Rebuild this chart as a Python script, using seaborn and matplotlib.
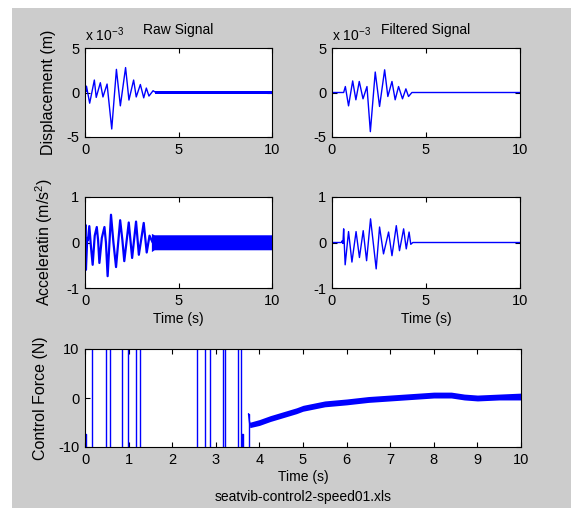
import numpy as np
import pandas as pd
import matplotlib
matplotlib.use("Agg")
import matplotlib.pyplot as plt
import seaborn as sns
from matplotlib.patches import Rectangle

# ---------------- data ----------------
# Raw displacement (x 10^-3 m)
disp_raw_t = [0.0, 0.02, 0.05, 0.08, 0.25, 0.50, 0.60, 0.82, 0.96, 1.18, 1.43, 1.68, 1.89,
              2.17, 2.35, 2.60, 2.74, 2.96, 3.14, 3.28, 3.42, 3.64, 3.75, 10.0]
disp_raw_v = [0.0, 0.8, 0.1, 0.7, -1.2, 1.4, -0.55, 1.1, -0.5, 0.95, -4.1, 2.6, -1.5,
              2.8, -0.85, 1.4, -0.5, 0.9, -0.6, 0.5, -0.4, 0.2, 0.05, 0.05]
disp_raw_band_t = [3.72, 10.0]
disp_raw_band_lo = [-0.12, -0.12]
disp_raw_band_hi = [0.22, 0.22]

# Filtered displacement (x 10^-3 m)
disp_filt_t = [0.0, 0.62, 0.71, 0.88, 1.10, 1.27, 1.45, 1.65, 1.86, 2.04, 2.30, 2.53, 2.80,
               2.97, 3.19, 3.36, 3.54, 3.75, 3.93, 4.07, 4.25, 10.0]
disp_filt_v = [0.0, 0.0, 0.67, -1.5, 1.3, -0.82, 1.24, -0.71, 0.67, -4.4, 2.3, -1.57, 2.55,
               -0.45, 1.24, -0.82, 0.67, -0.71, 0.41, -0.45, 0.0, 0.0]

# Raw acceleration (m/s^2)
acc_raw_t = [0.0, 0.02, 0.05, 0.12, 0.16, 0.23, 0.32, 0.41, 0.52, 0.63, 0.70, 0.77, 0.90, 1.04,
             1.12, 1.21, 1.39, 1.52, 1.66, 1.88, 2.00, 2.10, 2.34, 2.52, 2.73, 2.88, 3.14,
             3.30, 3.45, 3.62]
acc_raw_v = [0.0, 0.39, -0.60, 0.10, 0.05, 0.36, -0.10, -0.49, 0.15, 0.34, 0.05, -0.45, 0.10,
             0.34, 0.0, -0.74, 0.61, 0.0, -0.54, 0.49, 0.05, -0.41, 0.44, -0.34, 0.46, -0.27,
             0.43, -0.22, 0.15, 0.0]
acc_raw_band_t = [3.55, 3.70, 10.0]
acc_raw_band_lo = [-0.20, -0.16, -0.16]
acc_raw_band_hi = [0.20, 0.17, 0.17]

# Filtered acceleration (m/s^2)
acc_filt_t = [0.0, 0.50, 0.55, 0.58, 0.62, 0.70, 0.88, 1.06, 1.28, 1.46, 1.66, 1.84, 2.05,
              2.22, 2.35, 2.53, 2.74, 3.01, 3.19, 3.42, 3.59, 3.81, 3.95, 4.10, 4.19, 4.30,
              5.0, 6.0, 7.0, 8.0, 9.0, 10.0]
acc_filt_v = [0.0, 0.0, 0.04, -0.02, 0.30, -0.49, 0.24, -0.43, 0.24, -0.33, 0.26, -0.40, 0.52,
              -0.10, -0.58, 0.34, -0.25, 0.23, -0.29, 0.37, -0.18, 0.30, -0.14, 0.23, -0.04, 0.0,
              0.0, 0.0, 0.0, 0.0, 0.0, 0.0]

# Control force (N): switching part (held values, off-scale = saturated)
ctrl_sw_t = [0.0, 0.02, 0.17, 0.48, 0.57, 0.84, 0.98, 1.17, 1.27, 2.56, 2.76, 2.87, 3.16,
             3.21, 3.52, 3.58, 3.61, 3.63, 3.75]
ctrl_sw_v = [-7.3, -15, 15, -15, 15, -15, 15, -15, 15, -15, 15, -15, 15,
             -15, 15, -15, -7.3, -15, -3.2]
# Control force (N): continuous part
ctrl_t = [3.75, 3.78, 4.0, 4.25, 4.55, 4.85, 5.0, 5.5, 6.0, 6.5, 7.0, 7.5, 8.0, 8.4, 8.7,
          9.0, 9.5, 10.0]
ctrl_v = [-3.2, -5.5, -5.0, -4.2, -3.4, -2.6, -2.1, -1.2, -0.8, -0.3, 0.0, 0.3, 0.6, 0.6,
          0.2, 0.0, 0.2, 0.3]
ctrl_band = [0.0, 0.55, 0.6, 0.6, 0.6, 0.6, 0.6, 0.6, 0.6, 0.6, 0.6, 0.6, 0.6, 0.6, 0.6,
             0.6, 0.6, 0.7]

file_label = "seatvib-control2-speed01.xls"

# ---------------- style ----------------
sns.set_theme(style="white")
plt.rcParams["font.family"] = ["Liberation Sans", "DejaVu Sans"]
plt.rcParams["mathtext.default"] = "regular"
plt.rcParams["text.color"] = "black"
plt.rcParams["axes.labelcolor"] = "black"
plt.rcParams["xtick.color"] = "black"
plt.rcParams["ytick.color"] = "black"

W, H = 571, 508
fig = plt.figure(figsize=(W / 100, H / 100), dpi=100, facecolor="white")
fig.add_artist(Rectangle((12 / W, 0), 1, 1 - 8 / H, transform=fig.transFigure,
                         facecolor="#cccccc", edgecolor="none", zorder=-5))


def box(l, t, r, b):
    return [l / W, 1 - b / H, (r - l) / W, (b - t) / H]


ax_dr = fig.add_axes(box(85, 48, 272, 137))
ax_df = fig.add_axes(box(332, 48, 520, 137))
ax_ar = fig.add_axes(box(85, 197, 272, 288))
ax_af = fig.add_axes(box(332, 197, 520, 288))
ax_cf = fig.add_axes(box(85, 349, 521, 447))

BLUE = "#0000ff"
kw = dict(color=BLUE, estimator=None, sort=False, legend=False)

sns.lineplot(x=disp_raw_t, y=disp_raw_v, ax=ax_dr, lw=1.0, **kw)
ax_dr.fill_between(disp_raw_band_t, disp_raw_band_lo, disp_raw_band_hi, color=BLUE, lw=0)
sns.lineplot(x=disp_filt_t, y=disp_filt_v, ax=ax_df, lw=1.0, **kw)

sns.lineplot(x=acc_raw_t, y=acc_raw_v, ax=ax_ar, lw=1.6, **kw)
ax_ar.fill_between(acc_raw_band_t, acc_raw_band_lo, acc_raw_band_hi, color=BLUE, lw=0)
sns.lineplot(x=acc_filt_t, y=acc_filt_v, ax=ax_af, lw=1.0, **kw)

sns.lineplot(x=ctrl_sw_t, y=ctrl_sw_v, ax=ax_cf, lw=1.0, drawstyle="steps-post", **kw)
sns.lineplot(x=ctrl_t, y=ctrl_v, ax=ax_cf, lw=1.0, **kw)
ax_cf.fill_between(ctrl_t, np.array(ctrl_v) - np.array(ctrl_band),
                   np.array(ctrl_v) + np.array(ctrl_band), color=BLUE, lw=0)

TICK_FS = 10.5
LAB_FS = 10
YLAB_FS = 11.5


def style(ax, ylim, yticks, xticks):
    ax.set_xlim(0, 10)
    ax.set_ylim(*ylim)
    ax.set_facecolor("white")
    for s in ax.spines.values():
        s.set_visible(True)
        s.set_color("black")
        s.set_linewidth(0.8)
    ax.set_xticks(xticks)
    ax.set_yticks(yticks)
    ax.set_xticklabels([str(v) for v in xticks])
    ax.set_yticklabels([str(v) for v in yticks])
    ax.tick_params(direction="in", top=True, right=True, bottom=True, left=True,
                   length=3.5, width=0.8, labelsize=TICK_FS, pad=4)
    ax.set_xlabel("")
    ax.set_ylabel("")


for ax in (ax_dr, ax_df):
    style(ax, (-5, 5), [-5, 0, 5], [0, 5, 10])
    ax.text(0, 1.05, r"x 10$^{-3}$", transform=ax.transAxes, fontsize=10,
            ha="left", va="bottom")
for ax in (ax_ar, ax_af):
    style(ax, (-1, 1), [-1, 0, 1], [0, 5, 10])
    ax.set_xlabel("Time (s)", fontsize=LAB_FS)
    ax.xaxis.set_label_coords(0.5, -0.26)
style(ax_cf, (-10, 10), [-10, 0, 10], list(range(0, 11)))
ax_cf.set_xlabel("Time (s)", fontsize=LAB_FS)
ax_cf.xaxis.set_label_coords(0.5, -0.23)

ax_dr.text(0.5, 1.20, "Raw Signal", transform=ax_dr.transAxes, fontsize=LAB_FS,
           ha="center", va="center")
ax_df.text(0.5, 1.20, "Filtered Signal", transform=ax_df.transAxes, fontsize=LAB_FS,
           ha="center", va="center")

ax_dr.set_ylabel("Displacement (m)", fontsize=YLAB_FS)
ax_dr.yaxis.set_label_coords(-0.155, 0.5)
ax_ar.set_ylabel(r"Acceleratin (m/s$^2$)", fontsize=YLAB_FS)
ax_ar.yaxis.set_label_coords(-0.16, 0.5)
ax_cf.set_ylabel("Control Force (N)", fontsize=YLAB_FS)
ax_cf.yaxis.set_label_coords(-0.084, 0.5)

fig.text(303 / W, 1 - 497 / H, file_label, fontsize=LAB_FS, ha="center", va="center")

fig.savefig("out.png", dpi=100, facecolor=fig.get_facecolor())
